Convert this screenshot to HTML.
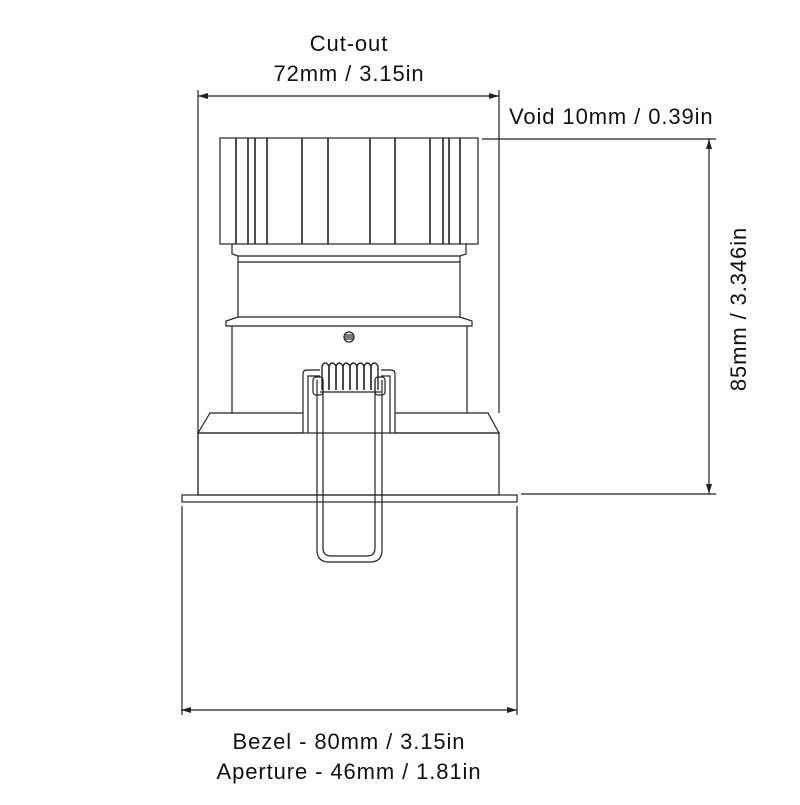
<!DOCTYPE html>
<html><head><style>
body{margin:0;background:#fff;width:800px;height:800px;overflow:hidden}
svg text{font-family:"Liberation Sans",sans-serif;font-size:22px;letter-spacing:0.9px;fill:#111}
</style></head><body>
<svg width="800" height="800" viewBox="0 0 800 800" xmlns="http://www.w3.org/2000/svg">
<g fill="none" stroke="#222" stroke-width="1.2">
<line x1="198" y1="90" x2="198" y2="495"/>
<line x1="499" y1="90" x2="499" y2="413"/>
<line x1="198" y1="96" x2="499" y2="96"/>
<line x1="482" y1="139" x2="716" y2="139"/>
<line x1="521" y1="494" x2="716" y2="494"/>
<line x1="709" y1="139" x2="709" y2="494"/>
<line x1="181" y1="710" x2="517" y2="710"/>
<rect x="220" y="138" width="258" height="106"/>
<g stroke-width="1.6">
<line x1="236" y1="138" x2="236" y2="244"/><line x1="248" y1="138" x2="248" y2="244"/>
<line x1="255" y1="138" x2="255" y2="244"/><line x1="267" y1="138" x2="267" y2="244"/>
<line x1="302" y1="138" x2="302" y2="244"/><line x1="328" y1="138" x2="328" y2="244"/>
<line x1="370" y1="138" x2="370" y2="244"/><line x1="395" y1="138" x2="395" y2="244"/>
<line x1="430" y1="138" x2="430" y2="244"/><line x1="443" y1="138" x2="443" y2="244"/>
<line x1="449" y1="138" x2="449" y2="244"/><line x1="460" y1="138" x2="460" y2="244"/>
</g>
<path d="M232 244 V254 L238 256 H460 L466 254 V244"/>
<line x1="238" y1="262" x2="460" y2="262"/>
<line x1="238" y1="256" x2="238" y2="317"/><line x1="460" y1="256" x2="460" y2="317"/>
<path d="M238 317 L226 321 V326 H472 V321 L460 317 Z"/>
<line x1="232" y1="326" x2="232" y2="413"/><line x1="467" y1="326" x2="467" y2="413"/>
<circle cx="349" cy="337" r="5"/>
<line x1="345" y1="335" x2="353" y2="335"/><line x1="344" y1="337" x2="354" y2="337"/><line x1="345" y1="339" x2="353" y2="339"/>
<path d="M303 413 H210 L198 433 H303"/>
<path d="M395 413 H488 L499 433 H395"/>
<rect x="198" y="433" width="301" height="62"/>
<rect x="182" y="495" width="335" height="7"/>
<line x1="182" y1="506" x2="182" y2="715"/><line x1="517" y1="506" x2="517" y2="715"/>
<path d="M303 433 V374 Q303 370 307 370 H320"/><path d="M308 433 V376 H320"/>
<path d="M395 433 V374 Q395 370 391 370 H381"/><path d="M390 433 V376 H381"/>
<path d="M317 380 V550 Q317 562 329 562 H370 Q382 562 382 550 V380"/>
<path d="M323 380 V548 Q323 556 331 556 H367 Q375 556 375 548 V380"/>
<rect x="313" y="377" width="10" height="18" rx="3"/><rect x="375" y="377" width="10" height="18" rx="3"/>
<line x1="320" y1="392" x2="381" y2="392"/>
<g stroke-width="1.4">
<path d="M322 390 V366 Q325 360 329 366 V390"/>
<path d="M329 390 V366 Q332 360 336 366 V390"/>
<path d="M336 390 V366 Q339 360 343 366 V390"/>
<path d="M343 390 V366 Q346 360 350 366 V390"/>
<path d="M350 390 V366 Q353 360 357 366 V390"/>
<path d="M357 390 V366 Q360 360 364 366 V390"/>
<path d="M364 390 V366 Q367 360 371 366 V390"/>
<path d="M371 390 V366 Q374 360 378 366 V390"/>
</g>
</g>
<g fill="#222">
<path d="M198 96 l10 -3 v6z"/><path d="M499 96 l-10 -3 v6z"/>
<path d="M709 139 l-3 10 h6z"/><path d="M709 494 l-3 -10 h6z"/>
<path d="M181 710 l10 -3 v6z"/><path d="M517 710 l-10 -3 v6z"/>
</g>
<text x="349" y="51" text-anchor="middle">Cut-out</text>
<text x="349" y="81" text-anchor="middle">72mm / 3.15in</text>
<text x="509" y="124">Void 10mm / 0.39in</text>
<text transform="translate(746 309) rotate(-90)" text-anchor="middle">85mm / 3.346in</text>
<text x="349" y="749" text-anchor="middle">Bezel - 80mm / 3.15in</text>
<text x="349" y="779" text-anchor="middle">Aperture - 46mm / 1.81in</text>
</svg>
</body></html>
